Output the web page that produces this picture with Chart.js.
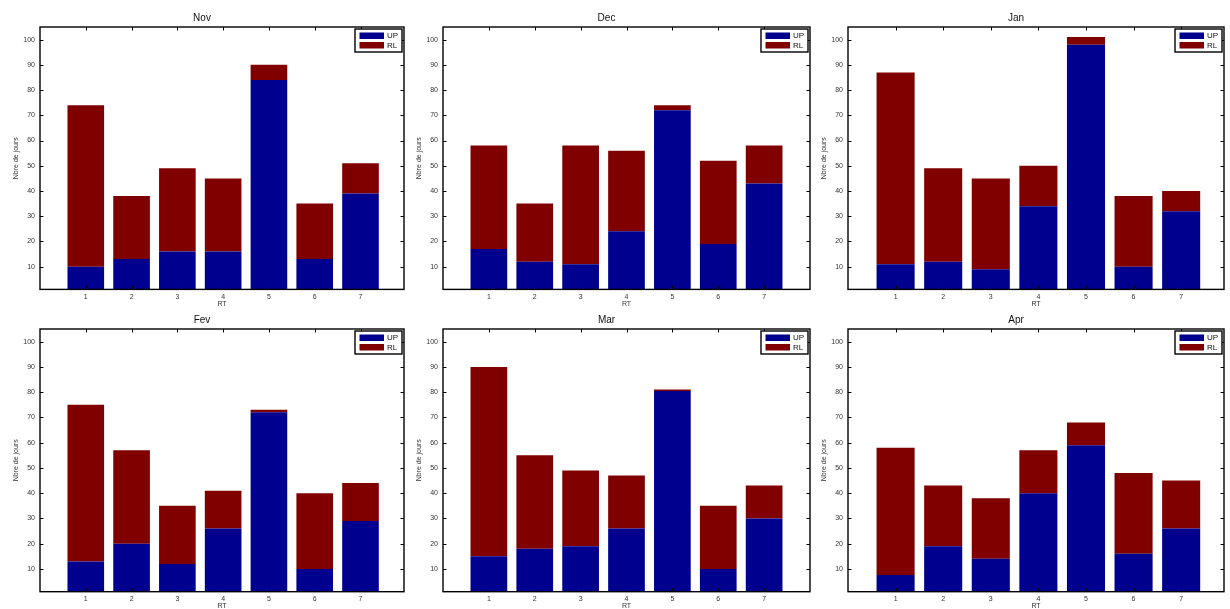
<!DOCTYPE html>
<html>
<head>
<meta charset="utf-8">
<script src="https://cdn.jsdelivr.net/npm/chart.js@4.4.1/dist/chart.umd.min.js"></script>
<style>
  html, body { margin: 0; padding: 0; background: #fff; overflow: hidden; }
  #wrap { position: relative; width: 1230px; height: 609px; background: #fff; overflow: hidden; }
  canvas { position: absolute; }
</style>
</head>
<body>
<div id="wrap"></div>
<script>
// ---------- data ----------
const RT = [1, 2, 3, 4, 5, 6, 7];
const Y_TICKS = [10, 20, 30, 40, 50, 60, 70, 80, 90, 100];
const MONTHS = ['Nov', 'Dec', 'Jan', 'Fev', 'Mar', 'Apr'];
const SERIES_NAMES = ['UP', 'RL'];

const UP_NOV = [10, 13, 16, 16, 84, 13, 39];
const RL_NOV = [64, 25, 33, 29, 6, 22, 12];
const UP_DEC = [17, 12, 11, 24, 72, 19, 43];
const RL_DEC = [41, 23, 47, 32, 2, 33, 15];
const UP_JAN = [11, 12, 9, 34, 98, 10, 32];
const RL_JAN = [76, 37, 36, 16, 3, 28, 8];
const UP_FEV = [13, 20, 12, 26, 72, 10, 29];
const RL_FEV = [62, 37, 23, 15, 1, 30, 15];
const UP_MAR = [15, 18, 19, 26, 80.5, 10, 30];
const RL_MAR = [75, 37, 30, 21, 0.5, 25, 13];
const UP_APR = [7.6, 19, 14, 40, 59, 16, 26];
const RL_APR = [50.4, 24, 24, 17, 9, 32, 19];

const UP_ALL = [UP_NOV, UP_DEC, UP_JAN, UP_FEV, UP_MAR, UP_APR];
const RL_ALL = [RL_NOV, RL_DEC, RL_JAN, RL_FEV, RL_MAR, RL_APR];

// ---------- layout / style ----------
const COLORS = { UP: '#00008f', RL: '#800000' };
const FONT = "'Liberation Sans', Arial, Helvetica, sans-serif";
const COLS = [ { cl: 40, cr: 404, xMax: 7.95 }, { cl: 443, cr: 810, xMax: 8 }, { cl: 848, cr: 1224, xMax: 7.9 } ];
const ROWS = [ { ct: 27, cb: 289.4 }, { ct: 329, cb: 591.7 } ];
const Y_MIN = 1, Y_MAX = 105;
const YW = 40, TH = 27, XH = 20, PR = 3;

const matlabAxes = {
  id: 'matlabAxes',
  afterDraw(chart) {
    const ctx = chart.ctx, ca = chart.chartArea;
    const xs = chart.scales.x, ys = chart.scales.y;
    ctx.save();
    // tick marks (inward, both sides)
    ctx.strokeStyle = '#000';
    ctx.lineWidth = 1;
    ctx.beginPath();
    ys.ticks.forEach(t => {
      const y = Math.round(ys.getPixelForValue(t.value)) + 0.5;
      ctx.moveTo(ca.left, y); ctx.lineTo(ca.left + 3.5, y);
      ctx.moveTo(ca.right, y); ctx.lineTo(ca.right - 3.5, y);
    });
    xs.ticks.forEach(t => {
      const x = Math.round(xs.getPixelForValue(t.value)) + 0.5;
      ctx.moveTo(x, ca.bottom); ctx.lineTo(x, ca.bottom - 3.5);
      ctx.moveTo(x, ca.top); ctx.lineTo(x, ca.top + 3.5);
    });
    ctx.stroke();
    // box
    ctx.lineWidth = 1.4;
    ctx.strokeRect(ca.left, ca.top, ca.right - ca.left, ca.bottom - ca.top);
    // legend
    const bw = 47, bh = 23;
    const bx = ca.right - bw - 2, by = ca.top + 2;
    ctx.fillStyle = '#fff';
    ctx.fillRect(bx, by, bw, bh);
    ctx.lineWidth = 1.4;
    ctx.strokeRect(bx, by, bw, bh);
    ctx.font = '8px ' + FONT;
    ctx.textBaseline = 'middle';
    ctx.textAlign = 'left';
    chart.data.datasets.forEach((ds, i) => {
      const sy = by + 3.5 + i * 9.5;
      ctx.fillStyle = ds.backgroundColor;
      ctx.fillRect(bx + 4.5, sy, 24.5, 6.5);
      ctx.fillStyle = '#111';
      ctx.fillText(ds.label, bx + 32, sy + 3.5);
    });
    ctx.restore();
  }
};

const wrap = document.getElementById('wrap');
MONTHS.forEach((m, idx) => {
  const col = COLS[idx % 3], row = ROWS[Math.floor(idx / 3)];
  const chartH = row.cb - row.ct;
  const totalH = TH + chartH + XH;
  const H = Math.ceil(totalH);
  const W = col.cr - col.cl + YW + PR;
  const cv = document.createElement('canvas');
  cv.width = W; cv.height = H;
  cv.style.left = (col.cl - YW) + 'px';
  cv.style.top = (row.ct - TH) + 'px';
  cv.style.width = W + 'px'; cv.style.height = H + 'px';
  wrap.appendChild(cv);

  const seriesVals = [UP_ALL[idx], RL_ALL[idx]];
  new Chart(cv, {
    type: 'bar',
    data: {
      datasets: SERIES_NAMES.map((name, si) => ({
        label: name,
        data: RT.map((x, i) => ({ x: x, y: seriesVals[si][i] })),
        backgroundColor: COLORS[name],
        borderWidth: 0,
        barPercentage: 0.8,
        categoryPercentage: 1.0
      }))
    },
    options: {
      responsive: false,
      devicePixelRatio: 1,
      animation: false,
      layout: { padding: { left: 0, top: 0, right: PR, bottom: H - totalH } },
      plugins: {
        legend: { display: false },
        tooltip: { enabled: false },
        title: {
          display: true, text: m, color: '#111',
          font: { family: FONT, size: 10, weight: 'normal', lineHeight: 1.2 },
          padding: { top: 12, bottom: 3 }
        }
      },
      scales: {
        x: {
          type: 'linear', stacked: true, min: 0, max: col.xMax, offset: false,
          grid: { display: false, drawTicks: false },
          border: { display: false },
          ticks: { color: '#333', font: { family: FONT, size: 7 }, padding: 3, maxRotation: 0, autoSkip: false },
          afterBuildTicks: s => { s.ticks = RT.map(v => ({ value: v })); },
          afterFit: s => { s.height = XH; },
          title: { display: true, text: 'RT', color: '#333', font: { family: FONT, size: 7 }, padding: { top: 0, bottom: 1 } }
        },
        y: {
          type: 'linear', stacked: true, min: Y_MIN, max: Y_MAX,
          grid: { display: false, drawTicks: false },
          border: { display: false },
          ticks: { color: '#333', font: { family: FONT, size: 7 }, padding: 5, autoSkip: false },
          afterBuildTicks: s => { s.ticks = Y_TICKS.map(v => ({ value: v })); },
          afterFit: s => { s.width = YW; },
          title: { display: true, text: 'Nbre de jours', color: '#333', font: { family: FONT, size: 7 }, padding: { top: 12, bottom: 0 } }
        }
      }
    },
    plugins: [matlabAxes]
  });
});
</script>
</body>
</html>
